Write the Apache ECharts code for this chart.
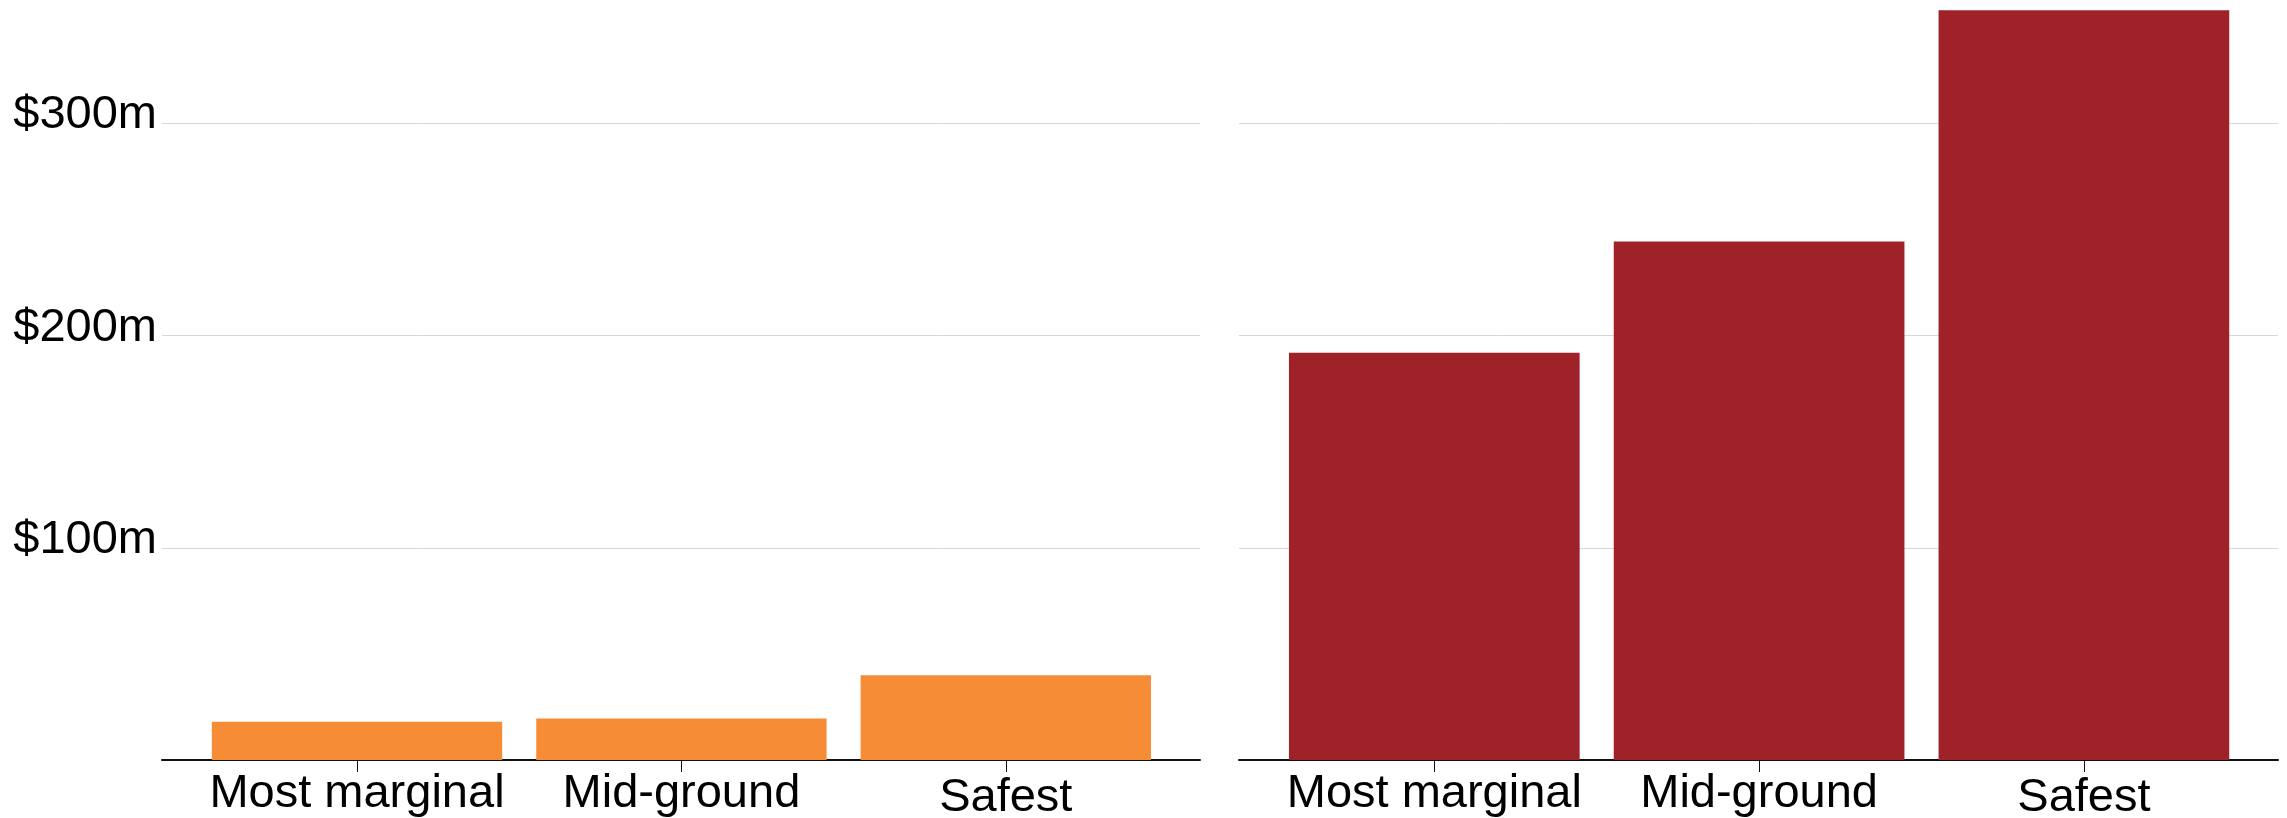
<!DOCTYPE html>
<html>
<head>
<meta charset="utf-8">
<style>
  html, body { margin: 0; padding: 0; background: #ffffff; }
  #chart { width: 2287px; height: 818px; }
</style>
<script src="https://cdn.jsdelivr.net/npm/echarts@6/dist/echarts.min.js"></script>
</head>
<body>
<div id="chart"></div>
<script>
// Seat groups along the x axis
const categories = ['Most marginal', 'Mid-ground', 'Safest'];
// Spending per seat group, in $ millions
const orangeValues = [18, 19.6, 40];
const redValues = [192, 244.4, 353.4];
// Value-axis ticks and their labels
const yTickValues = [100, 200, 300];
const yTickLabels = ['$100m', '$200m', '$300m'];

const FONT = '"Liberation Sans", Arial, Helvetica, sans-serif';
const Y_MAX = 358.2;
const GRID_COLOR = '#d6d7d9';

function yLabel(v) {
  const i = yTickValues.indexOf(v);
  return i >= 0 ? yTickLabels[i] : '';
}

function catLabel(v) {
  // labels without descenders sit a little lower
  return /[gjpqy]/.test(v) ? v : '{low|' + v + '}';
}

const chart = echarts.init(document.getElementById('chart'), null, { renderer: 'canvas' });

const frameY = (showLabels) => ({
  type: 'value',
  min: 0,
  max: Y_MAX,
  interval: 100,
  axisLine: { show: false },
  axisTick: { show: false },
  splitLine: { show: true, showMinLine: false, showMaxLine: false, lineStyle: { color: GRID_COLOR, width: 1 } },
  axisLabel: {
    show: showLabels,
    formatter: yLabel,
    showMaxLabel: false,
    showMinLabel: false,
    margin: 5,
    color: '#000',
    fontFamily: FONT,
    fontSize: 47,
    verticalAlign: 'bottom',
    lineHeight: 16
  }
});

const barY = () => ({
  type: 'value',
  min: 0,
  max: Y_MAX,
  interval: 100,
  show: false,
  splitLine: { show: false }
});

const frameX = () => ({
  type: 'value',
  min: 0,
  max: 1,
  axisLine: { show: true, onZero: false, lineStyle: { color: '#111', width: 2 } },
  axisTick: { show: false },
  axisLabel: { show: false },
  splitLine: { show: false }
});

const barX = () => ({
  type: 'category',
  data: categories,
  boundaryGap: true,
  axisLine: { show: false },
  axisTick: { show: true, alignWithLabel: true, interval: 0, length: 12, lineStyle: { color: '#111', width: 1 } },
  axisLabel: {
    interval: 0,
    hideOverlap: false,
    color: '#000',
    fontFamily: FONT,
    fontSize: 47,
    margin: 11,
    formatter: catLabel,
    rich: { low: { fontFamily: FONT, fontSize: 47, color: '#000', padding: [4, 0, 0, 0] } }
  },
  splitLine: { show: false }
});

const gridBase = { top: 0, bottom: 58, containLabel: false, outerBoundsMode: 'none' };

chart.setOption({
  animation: false,
  backgroundColor: '#ffffff',
  grid: [
    Object.assign({ left: 162, right: 1087 }, gridBase),
    Object.assign({ left: 194.8, right: 1119 }, gridBase),
    Object.assign({ left: 1239, right: 9 }, gridBase),
    Object.assign({ left: 1271.9, right: 40.7 }, gridBase)
  ],
  xAxis: [
    Object.assign(frameX(), { gridIndex: 0 }),
    Object.assign(barX(), { gridIndex: 1 }),
    Object.assign(frameX(), { gridIndex: 2 }),
    Object.assign(barX(), { gridIndex: 3 })
  ],
  yAxis: [
    Object.assign(frameY(true), { gridIndex: 0 }),
    Object.assign(barY(), { gridIndex: 1 }),
    Object.assign(frameY(false), { gridIndex: 2 }),
    Object.assign(barY(), { gridIndex: 3 })
  ],
  series: [
    {
      name: 'Orange',
      type: 'bar',
      xAxisIndex: 1,
      yAxisIndex: 1,
      data: orangeValues,
      barWidth: '89.5%',
      itemStyle: { color: '#f68c35' },
      z: 1
    },
    {
      name: 'Red',
      type: 'bar',
      xAxisIndex: 3,
      yAxisIndex: 3,
      data: redValues,
      barWidth: '89.5%',
      itemStyle: { color: '#a02229' },
      z: 1
    }
  ]
});
</script>
</body>
</html>
